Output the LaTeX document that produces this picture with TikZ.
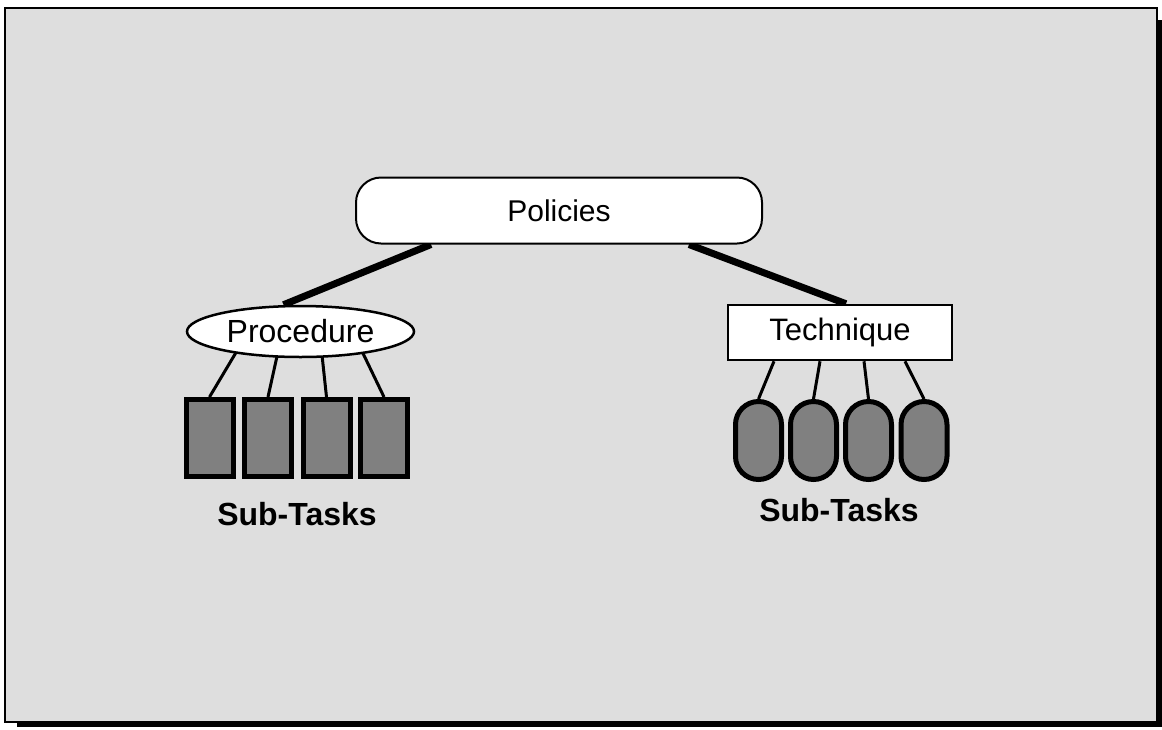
\documentclass[tikz,border=0pt]{standalone}
\usepackage{fontspec}
\setmainfont{Liberation Sans}
\usetikzlibrary{backgrounds,shapes.geometric}
\definecolor{panel}{HTML}{DEDEDE}
\definecolor{taskfill}{HTML}{808080}
\tikzset{
  lbl/.style={font=\fontsize{31}{36}\selectfont},
  sublabel/.style={font=\fontsize{32}{38}\bfseries\selectfont},
  policybox/.style={draw,line width=2pt,fill=white,rounded corners=25pt,
    minimum width=406pt,minimum height=66pt,inner sep=0pt,
    font=\fontsize{30}{36}\selectfont},
  procnode/.style={ellipse,draw,line width=2.5pt,fill=white,
    minimum width=227pt,minimum height=51pt,inner sep=0pt,
    font=\fontsize{32}{38}\selectfont},
  technode/.style={draw,line width=2.5pt,fill=white,
    minimum width=224pt,minimum height=55pt,inner sep=0pt,lbl},
  rectask/.style={draw,line width=5pt,fill=taskfill,
    minimum width=47pt,minimum height=77pt,inner sep=0pt},
  captask/.style={draw,line width=5pt,fill=taskfill,rounded corners=23pt,
    minimum width=46pt,minimum height=78pt,inner sep=0pt},
  branch/.style={line width=7pt},
  twig/.style={line width=3pt},
}
\begin{document}
\begin{tikzpicture}[x=1pt,y=-1pt]
\useasboundingbox (0,0) rectangle (1162,729);

% top level and the two kinds of task breakdown
\node[policybox] (pol) at (559,210.5) {Policies};
\node[procnode] (proc) at (300.5,331.5) {Procedure};
\node[technode] (tech) at (840,332.5) {Technique};

% procedure sub-tasks: square boxes
\node[rectask] (r1) at (209.5,438) {};
\node[rectask] (r2) at (268,438) {};
\node[rectask] (r3) at (326.5,438) {};
\node[rectask] (r4) at (384,438) {};
\node[sublabel,anchor=base] (lsub) at (297,525) {Sub-Tasks};

% technique sub-tasks: capsules
\node[captask] (c1) at (758.5,440.5) {};
\node[captask] (c2) at (813.5,440.5) {};
\node[captask] (c3) at (868.5,440.5) {};
\node[captask] (c4) at (924,440.5) {};
\node[sublabel,anchor=base] (rsub) at (839,521) {Sub-Tasks};

\begin{pgfonlayer}{background}
  % panel with drop shadow
  \fill[black] (17,20) rectangle (1162,727);
  \fill[panel,draw=black,line width=2pt] (5,8) rectangle (1157,722);
  % branches from the policy box
  \draw[branch] ([xshift=-128pt]pol.south) -- ([xshift=-17pt]proc.north);
  \draw[branch] ([xshift=130pt]pol.south) -- ([xshift=6pt]tech.north);
  % twigs to the sub-tasks
  \draw[twig] ([xshift=-52pt]proc.center) -- (r1.north);
  \draw[twig] ([xshift=-18pt]proc.center) -- (r2.north);
  \draw[twig] ([xshift=19pt]proc.center) -- (r3.north);
  \draw[twig] ([xshift=52pt]proc.center) -- (r4.north);
  \draw[twig] ([xshift=-66pt]tech.south) -- (c1.north);
  \draw[twig] ([xshift=-20pt]tech.south) -- (c2.north);
  \draw[twig] ([xshift=24pt]tech.south) -- (c3.north);
  \draw[twig] ([xshift=65pt]tech.south) -- (c4.north);
\end{pgfonlayer}
\end{tikzpicture}
\end{document}
